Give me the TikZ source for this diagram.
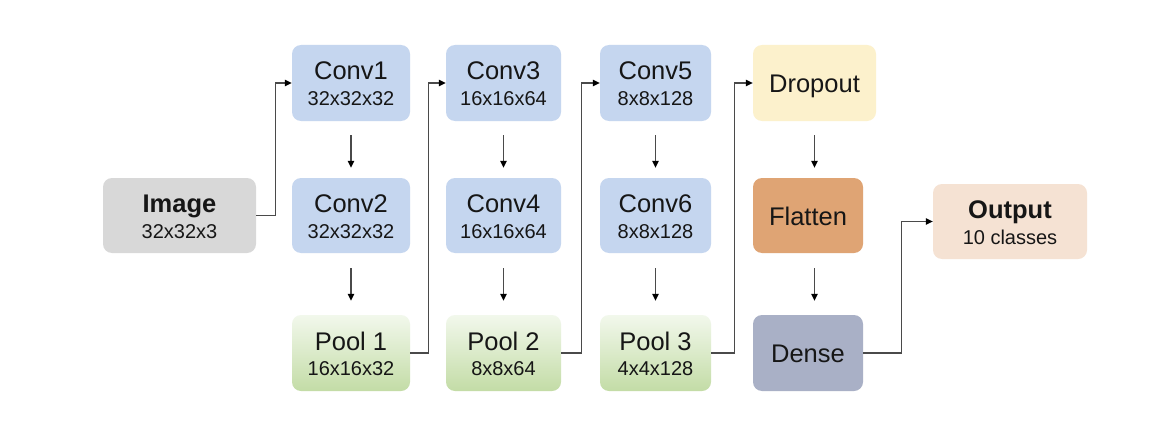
\documentclass[tikz,border=0pt]{standalone}
\usepackage{fontspec}
\setmainfont{Liberation Sans}
\usetikzlibrary{arrows.meta}
\definecolor{imgc}{HTML}{D8D8D8}
\definecolor{convc}{HTML}{C5D6EF}
\definecolor{pooltop}{HTML}{F2F8EC}
\definecolor{poolbot}{HTML}{C3DCA6}
\definecolor{dropc}{HTML}{FCF1CC}
\definecolor{flatc}{HTML}{DFA474}
\definecolor{densec}{HTML}{A9B0C6}
\definecolor{outc}{HTML}{F5E2D3}
\definecolor{linec}{HTML}{4A4A4A}
\definecolor{txt}{HTML}{161616}
\begin{document}
\begin{tikzpicture}[x=1pt,y=-1pt,
  box/.style={rounded corners=9pt, inner sep=0pt, draw=none},
  conv/.style={box, fill=convc, minimum height=76pt},
  pool/.style={box, top color=pooltop, bottom color=poolbot, minimum height=76pt},
  ttl/.style={font=\fontsize{25.5}{30}\selectfont, anchor=base, inner sep=0pt, text=txt},
  ttlb/.style={font=\fontsize{25.5}{30}\selectfont\bfseries, anchor=base, inner sep=0pt, text=txt},
  sub/.style={font=\fontsize{20}{24}\selectfont, anchor=base, inner sep=0pt, text=txt},
  arr/.style={draw=linec, line width=1.1pt, -{Triangle[length=7pt,width=6.5pt,color=black]}}
]
\useasboundingbox (0,0) rectangle (1167,436);
\fill[white] (0,0) rectangle (1167,436);

% Image
\node[box, fill=imgc, minimum width=153pt, minimum height=75pt] (img) at (179.5,215.5) {};
\node[ttlb] (imgT) at (179.5,212.5) {Image};
\node[sub] (imgS) at (179.5,238) {32x32x3};

% Column 1
\node[conv, minimum width=118pt] (c1) at (351,83) {};
\node[ttl] (c1T) at (351,80) {Conv1};
\node[sub] (c1S) at (351,105.5) {32x32x32};
\node[conv, minimum width=118pt, minimum height=75pt] (c2) at (351,215.5) {};
\node[ttl] (c2T) at (351,212.5) {Conv2};
\node[sub] (c2S) at (351,238) {32x32x32};
\node[pool, minimum width=118pt] (p1) at (351,353) {};
\node[ttl] (p1T) at (351,350) {Pool 1};
\node[sub] (p1S) at (351,375.5) {16x16x32};

% Column 2
\node[conv, minimum width=115pt] (c3) at (503.5,83) {};
\node[ttl] (c3T) at (503.5,80) {Conv3};
\node[sub] (c3S) at (503.5,105.5) {16x16x64};
\node[conv, minimum width=115pt, minimum height=75pt] (c4) at (503.5,215.5) {};
\node[ttl] (c4T) at (503.5,212.5) {Conv4};
\node[sub] (c4S) at (503.5,238) {16x16x64};
\node[pool, minimum width=115pt] (p2) at (503.5,353) {};
\node[ttl] (p2T) at (503.5,350) {Pool 2};
\node[sub] (p2S) at (503.5,375.5) {8x8x64};

% Column 3
\node[conv, minimum width=111pt] (c5) at (655.5,83) {};
\node[ttl] (c5T) at (655.5,80) {Conv5};
\node[sub] (c5S) at (655.5,105.5) {8x8x128};
\node[conv, minimum width=111pt, minimum height=75pt] (c6) at (655.5,215.5) {};
\node[ttl] (c6T) at (655.5,212.5) {Conv6};
\node[sub] (c6S) at (655.5,238) {8x8x128};
\node[pool, minimum width=111pt] (p3) at (655.5,353) {};
\node[ttl] (p3T) at (655.5,350) {Pool 3};
\node[sub] (p3S) at (655.5,375.5) {4x4x128};

% Column 4
\node[box, fill=dropc, minimum width=123pt, minimum height=76pt] (drop) at (814.5,83) {};
\node[ttl] (dropT) at (814.5,92.5) {Dropout};
\node[box, fill=flatc, minimum width=110pt, minimum height=75pt] (flat) at (808,215.5) {};
\node[ttl] (flatT) at (808,225) {Flatten};
\node[box, fill=densec, minimum width=110pt, minimum height=76pt] (dense) at (808,353) {};
\node[ttl] (denseT) at (808,362.5) {Dense};

% Output
\node[box, fill=outc, minimum width=154pt, minimum height=75pt] (out) at (1010,221.5) {};
\node[ttlb] (outT) at (1010,218) {Output};
\node[sub] (outS) at (1010,244) {10 classes};

% vertical arrows
\foreach \a/\b in {c1/c2,c3/c4,c5/c6}{
  \draw[arr] ([yshift=-14pt]\a.south) -- ([yshift=10pt]\b.north);
}
\foreach \a/\b in {c2/p1,c4/p2,c6/p3}{
  \draw[arr] ([yshift=-15pt]\a.south) -- ([yshift=14pt]\b.north);
}
\draw[arr] ([yshift=-14pt]drop.south) -- ([yshift=10pt]drop.south |- flat.north);
\draw[arr] ([yshift=-15pt]drop.south |- flat.south) -- ([yshift=14pt]drop.south |- dense.north);

% elbow connectors
\draw[arr] (img.east) -- ++(19,0) |- (c1.west);
\draw[arr] (p1.east) -- ++(18,0) |- (c3.west);
\draw[arr] (p2.east) -- ++(20,0) |- (c5.west);
\draw[arr] (p3.east) -- ++(23,0) |- (drop.west);
\draw[arr] (dense.east) -- ++(38,0) |- (out.west);
\end{tikzpicture}
\end{document}
